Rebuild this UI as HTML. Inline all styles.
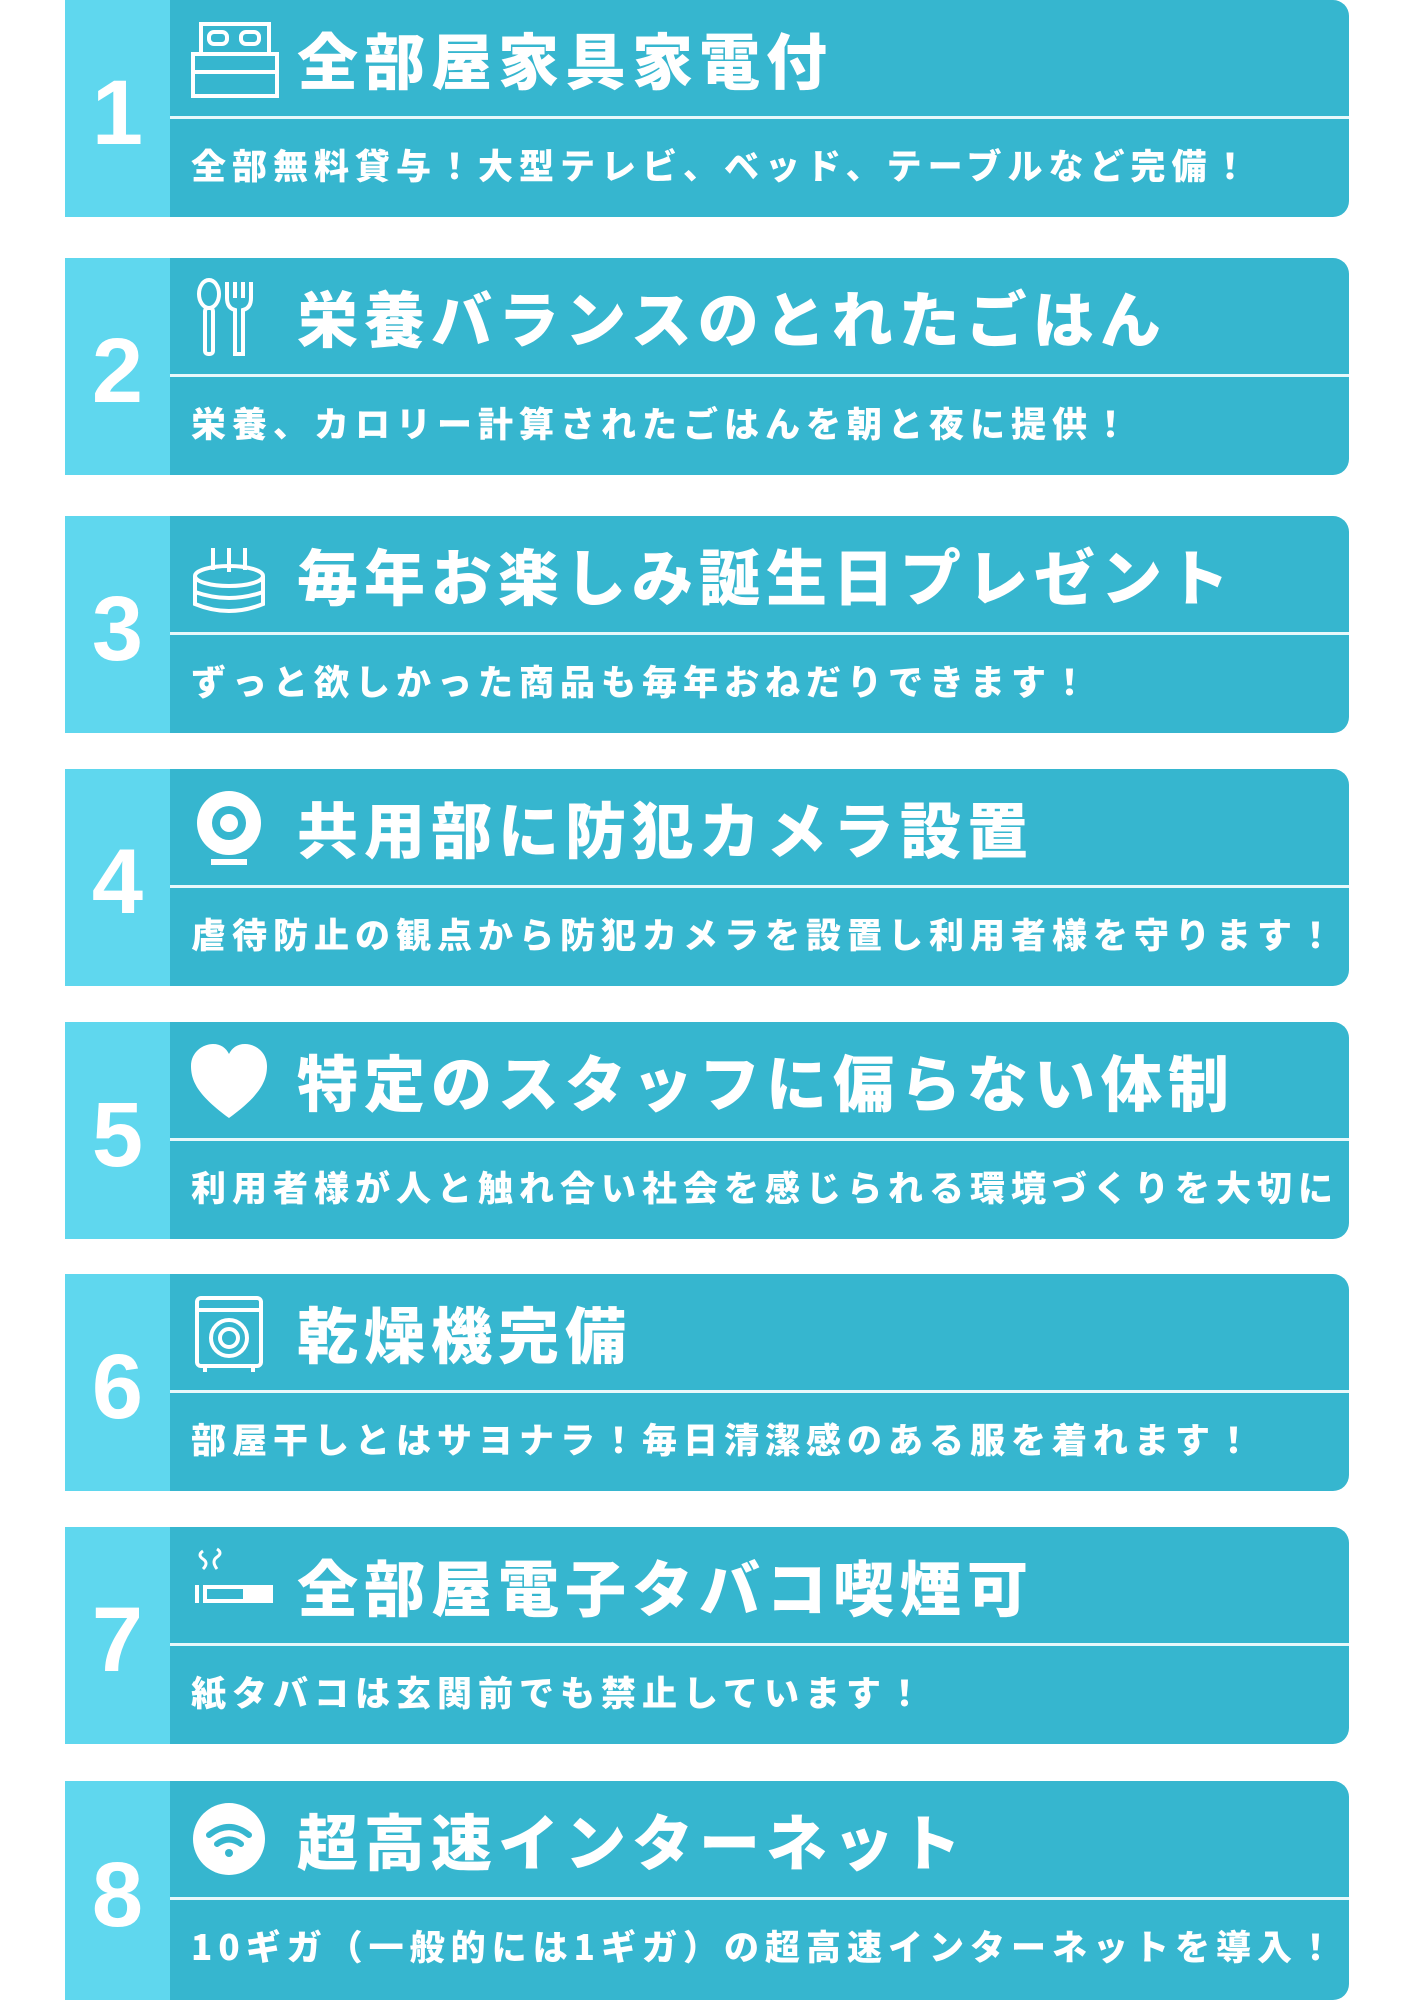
<!DOCTYPE html>
<html><head><meta charset="utf-8"><style>
body{margin:0;width:1414px;height:2000px;background:#fff;position:relative;overflow:hidden;font-family:"Liberation Sans","Noto Sans CJK JP",sans-serif;}
.box{position:absolute;left:65px;width:1284px;height:217px;background:#36b6cf;border-radius:0 16px 16px 0;overflow:hidden;}
.num{position:absolute;left:0;top:0;width:105px;height:100%;background:#5fd7ee;color:#fff;font-weight:bold;font-size:92px;display:flex;align-items:center;justify-content:center;padding-top:10px;box-sizing:border-box}
.div{position:absolute;left:105px;right:0;top:116px;height:3px;background:#e8f8fb;}
.t{position:absolute;left:232px;top:18px;color:#fff;font-weight:900;font-size:61px;letter-spacing:6px;line-height:80px;white-space:nowrap;font-family:"Noto Sans CJK JP",sans-serif;}
.s{position:absolute;left:126px;top:140px;color:#fff;font-weight:900;font-size:35px;letter-spacing:6px;line-height:50px;white-space:nowrap;font-family:"Noto Sans CJK JP",sans-serif;}
.ic{position:absolute;left:124px;top:20px;width:90px;height:80px;}
</style></head><body>

<div class="box" style="top:0"><div class="num">1</div><div class="div"></div>
<svg class="ic" viewBox="0 0 90 80"><g fill="none" stroke="#fff" stroke-width="4"><rect x="12" y="4" width="68" height="30"/><rect x="4" y="34" width="84" height="42"/><line x1="4" y1="52" x2="88" y2="52"/><rect x="20" y="12" width="18" height="12" rx="5"/><rect x="52" y="12" width="18" height="12" rx="5"/></g></svg>
<div class="t">全部屋家具家電付</div><div class="s">全部無料貸与！大型テレビ、ベッド、テーブルなど完備！</div></div>

<div class="box" style="top:258px"><div class="num">2</div><div class="div"></div>
<svg class="ic" viewBox="0 0 90 80"><g fill="none" stroke="#fff" stroke-width="4"><ellipse cx="20" cy="16" rx="10" ry="14"/><rect x="16" y="30" width="8" height="46" rx="3"/><path d="M38 4v16q0 10 8 12v44h8V32q8-2 8-12V4M46 4v16M54 4v16"/></g></svg>
<div class="t">栄養バランスのとれたごはん</div><div class="s">栄養、カロリー計算されたごはんを朝と夜に提供！</div></div>

<div class="box" style="top:516px"><div class="num">3</div><div class="div"></div>
<svg class="ic" viewBox="0 0 90 80"><g fill="none" stroke="#fff" stroke-width="4"><ellipse cx="40" cy="40" rx="34" ry="10"/><path d="M6 40v28q34 14 68 0V40M6 56q34 12 68 0"/><path d="M24 12v22M40 12v24M56 12v22"/></g></svg>
<div class="t">毎年お楽しみ誕生日プレゼント</div><div class="s">ずっと欲しかった商品も毎年おねだりできます！</div></div>

<div class="box" style="top:769px"><div class="num">4</div><div class="div"></div>
<svg class="ic" viewBox="0 0 90 80"><circle cx="40" cy="34" r="32" fill="#fff"/><circle cx="40" cy="34" r="17" fill="#36b6cf"/><circle cx="40" cy="34" r="9" fill="#fff"/><rect x="22" y="70" width="36" height="6" fill="#fff"/></svg>
<div class="t">共用部に防犯カメラ設置</div><div class="s">虐待防止の観点から防犯カメラを設置し利用者様を守ります！</div></div>

<div class="box" style="top:1022px"><div class="num">5</div><div class="div"></div>
<svg class="ic" viewBox="0 0 90 80"><path d="M40 76C10 54 2 40 2 24 2 10 14 2 24 2c8 0 13 4 16 10 3-6 8-10 16-10 10 0 22 8 22 22 0 16-8 30-38 52z" fill="#fff"/></svg>
<div class="t">特定のスタッフに偏らない体制</div><div class="s">利用者様が人と触れ合い社会を感じられる環境づくりを大切に</div></div>

<div class="box" style="top:1274px"><div class="num">6</div><div class="div"></div>
<svg class="ic" viewBox="0 0 90 80"><g fill="none" stroke="#fff" stroke-width="4"><rect x="8" y="4" width="64" height="68" rx="4"/><line x1="8" y1="16" x2="72" y2="16"/><circle cx="40" cy="44" r="18"/><circle cx="40" cy="44" r="9"/><path d="M16 72v6M64 72v6"/></g></svg>
<div class="t">乾燥機完備</div><div class="s">部屋干しとはサヨナラ！毎日清潔感のある服を着れます！</div></div>

<div class="box" style="top:1527px"><div class="num">7</div><div class="div"></div>
<svg class="ic" viewBox="0 0 90 80"><g fill="none" stroke="#fff" stroke-width="3"><path d="M14 4q-6 4 0 8t0 10M28 2q6 4 0 8t0 12"/></g><rect x="6" y="38" width="4" height="18" fill="#fff"/><rect x="14" y="38" width="70" height="18" fill="#fff"/><rect x="18" y="42" width="36" height="10" fill="#36b6cf"/></svg>
<div class="t">全部屋電子タバコ喫煙可</div><div class="s">紙タバコは玄関前でも禁止しています！</div></div>

<div class="box" style="top:1781px;height:219px"><div class="num">8</div><div class="div"></div>
<svg class="ic" viewBox="0 0 90 80"><circle cx="40" cy="38" r="36" fill="#fff"/><g fill="none" stroke="#36b6cf" stroke-width="6" stroke-linecap="round"><path d="M20 34q20-16 40 0"/><path d="M28 43q12-9 24 0"/></g><circle cx="40" cy="52" r="4" fill="#36b6cf"/></svg>
<div class="t">超高速インターネット</div><div class="s">10ギガ（一般的には1ギガ）の超高速インターネットを導入！</div></div>

</body></html>
